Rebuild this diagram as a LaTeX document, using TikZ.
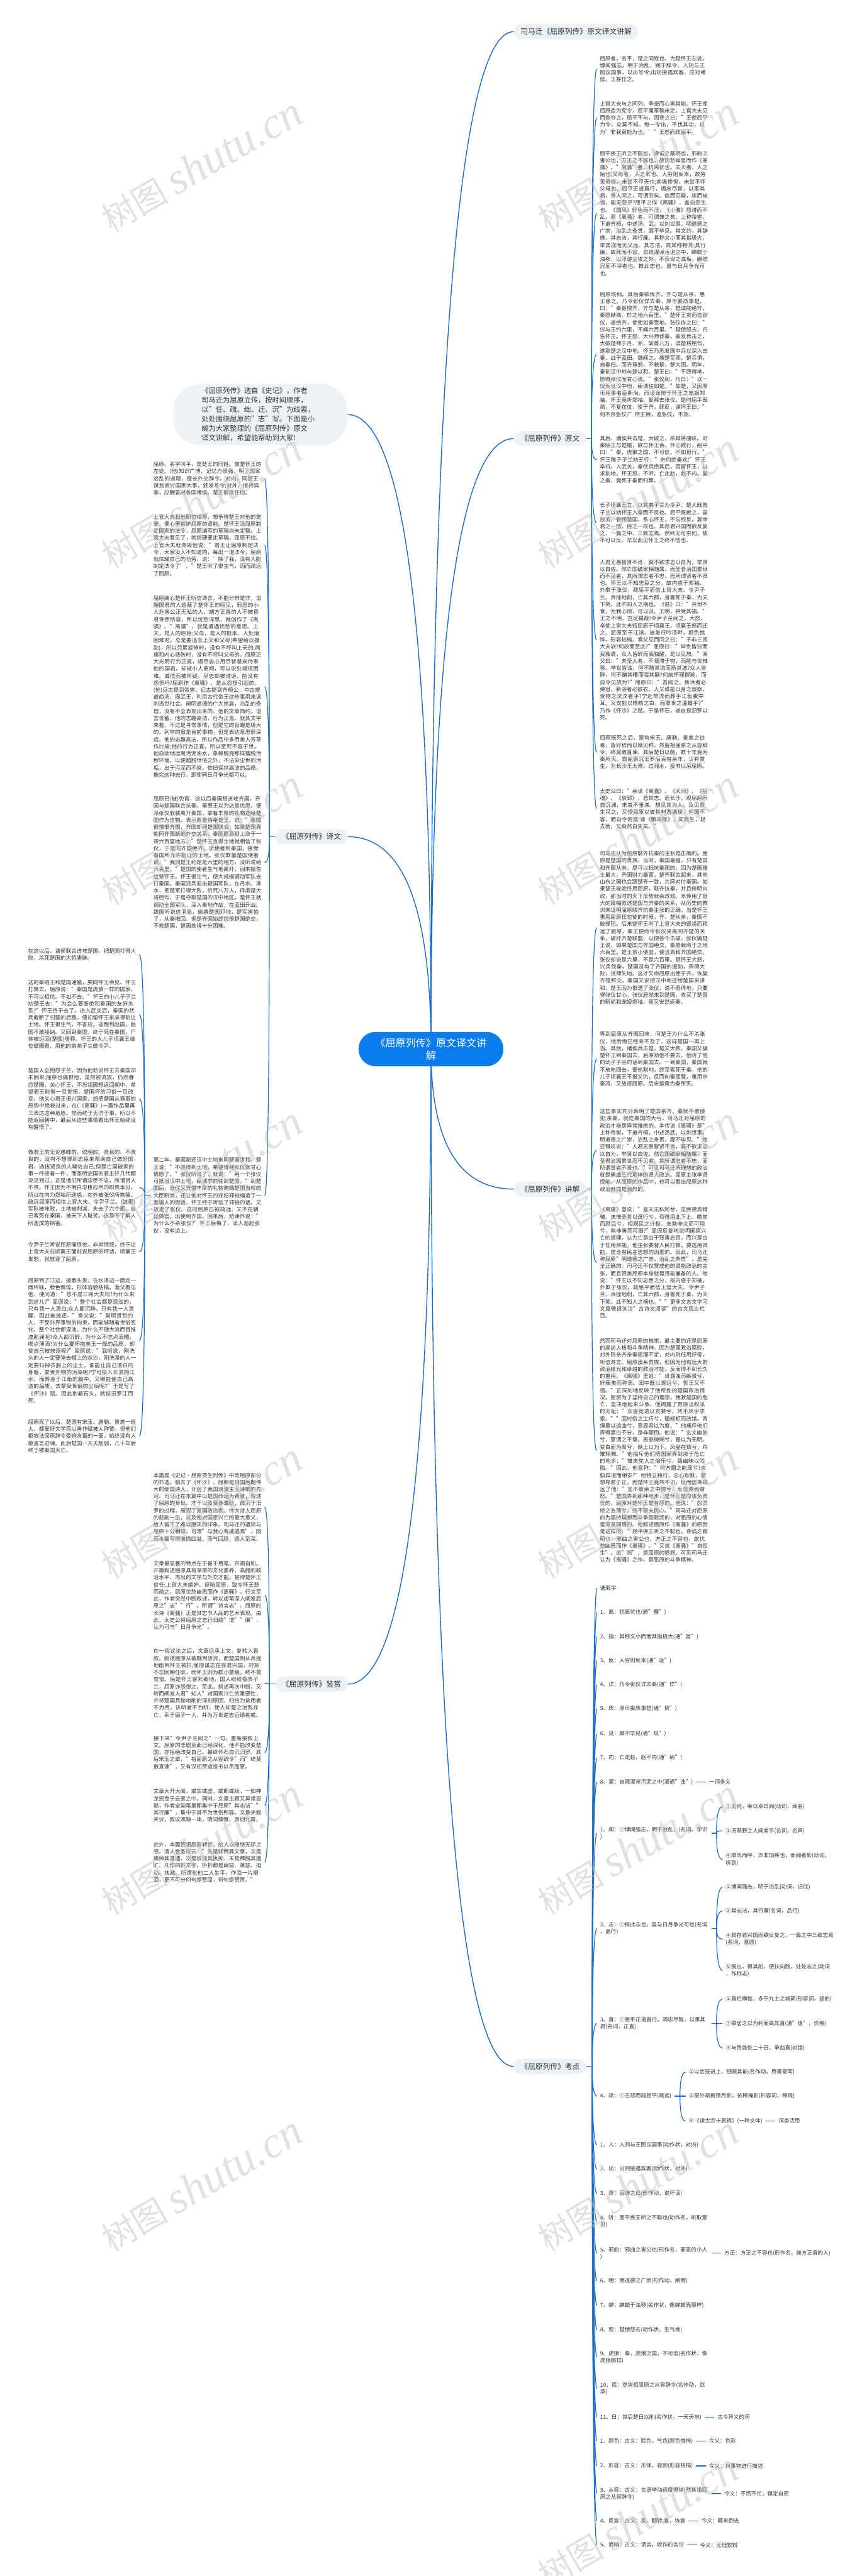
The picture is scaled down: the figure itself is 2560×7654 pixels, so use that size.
\documentclass[tikz,border=0pt]{standalone}
\usepackage{fontspec}
\setmainfont{Noto Sans CJK SC}
\newfontfamily\wmserif{Liberation Serif}
\XeTeXlinebreaklocale "zh"
\XeTeXlinebreakskip=0pt plus 1pt
\setlength{\parindent}{0pt}
\usetikzlibrary{calc,backgrounds}
\definecolor{lk}{RGB}{26,108,200}
\definecolor{cblue}{RGB}{10,124,235}
\definecolor{bfill}{RGB}{238,242,246}
\definecolor{tx}{RGB}{51,51,51}
\definecolor{wm}{RGB}{190,190,190}
\tikzset{
 leaf/.style={inner xsep=4.5pt, inner ysep=1pt, font=\fontsize{8pt}{10.5pt}\selectfont, text=tx, align=left},
 lw/.style={leaf, text width=160.5pt},
 br/.style={fill=bfill, rounded corners=11.5pt, minimum height=23pt, inner xsep=9.75pt, font=\fontsize{11pt}{13pt}\selectfont, text=tx},
 ctrst/.style={fill=cblue, rounded corners=25pt, minimum width=215pt, minimum height=51pt, text width=166pt, align=center, text=white, font=\fontsize{15pt}{19pt}\selectfont},
 introst/.style={fill=bfill, rounded corners=40pt, minimum width=259pt, minimum height=91pt, text width=175pt, align=left, text=tx, font=\fontsize{10.5pt}{14pt}\selectfont},
 main/.style={draw=lk, line width=1.3pt},
 sub/.style={draw=lk, line width=1.1pt},
 qc/.style={to path={.. controls ($(\tikztostart)!2/3!(\tikztostart |- \tikztotarget)$) and ($(\tikztotarget)!2/3!(\tikztostart |- \tikztotarget)$) .. (\tikztotarget)}},
 wmk/.style={font=\fontsize{50pt}{50pt}\selectfont, text=wm, opacity=0.45, rotate=30, anchor=south west, inner sep=0pt},
}
\newcommand\wmtext{树图 {\wmserif\itshape\fontsize{66pt}{66pt}\selectfont shutu.cn}}
\begin{document}
\begin{tikzpicture}[x=0.5pt,y=-0.5pt]
\useasboundingbox (0,0) rectangle (2560,7654);
% ---------- center and branches
\node[ctrst] (ctr) at (1280,3117) {《屈原列传》原文译文讲\\解};
\node[br, anchor=west] (tt) at (1526,94) {司马迁《屈原列传》原文译文讲解};
\node[br, anchor=west] (yw) at (1526,1303) {《屈原列传》原文};
\node[br, anchor=west] (jj) at (1526,3533) {《屈原列传》讲解};
\node[br, anchor=west] (kd) at (1526,6140) {《屈原列传》考点};
\node[br, anchor=east] (yl) at (1033,2486) {《屈原列传》译文};
\node[br, anchor=east] (js) at (1033,5004) {《屈原列传》鉴赏};
\node[introst, anchor=east] (intro) at (1033,1232) {《屈原列传》选自《史记》，作者\\司马迁为屈原立传，按时间顺序，\\以"任、疏、绌、迁、沉"为线索，\\处处围绕屈原的"志"写。下面是小\\编为大家整理的《屈原列传》原文\\译文讲解，希望能帮助到大家!};
% ---------- original text
\node[lw, anchor=west] (o1) at (1772,205) {屈原者，名平，楚之同姓也。为楚怀王左徒。博闻强志，明于治乱，娴于辞令。入则与王图议国事，以出号令;出则接遇宾客，应对诸侯。王甚任之。};
\node[lw, anchor=west] (o2) at (1772,350) {上官大夫与之同列，争宠而心害其能。怀王使屈原造为宪令，屈平属草稿未定。上官大夫见而欲夺之，屈平不与，因谗之曰："王使屈平为令，众莫不知。每一令出，平伐其功，以为'非我莫能为也。'"王怒而疏屈平。};
\node[lw, anchor=west] (o3) at (1772,634) {屈平疾王听之不聪也，谗谄之蔽明也，邪曲之害公也，方正之不容也，故忧愁幽思而作《离骚》。"离骚"者，犹离忧也。夫天者，人之始也;父母者，人之本也。人穷则反本，故劳苦倦极，未尝不呼天也;疾痛惨怛，未尝不呼父母也。屈平正道直行，竭忠尽智，以事其君，谗人间之，可谓穷矣。信而见疑，忠而被谤，能无怨乎?屈平之作《离骚》，盖自怨生也。《国风》好色而不淫，《小雅》怨诽而不乱。若《离骚》者，可谓兼之矣。上称帝喾，下道齐桓，中述汤、武，以刺世事。明道德之广崇，治乱之条贯，靡不毕见。其文约，其辞微，其志洁，其行廉。其称文小而其指极大，举类迩而见义远。其志洁，故其称物芳;其行廉，故死而不容。自疏濯淖污泥之中，蝉蜕于浊秽，以浮游尘埃之外，不获世之滋垢，皭然泥而不滓者也。推此志也，虽与日月争光可也。};
\node[lw, anchor=west] (o4) at (1772,1053) {屈原既绌。其后秦欲伐齐，齐与楚从亲，惠王患之。乃令张仪佯去秦，厚币委质事楚，曰："秦甚憎齐，齐与楚从亲，楚诚能绝齐，秦愿献商、於之地六百里。"楚怀王贪而信张仪，遂绝齐，使使如秦受地。张仪诈之曰："仪与王约六里，不闻六百里。"楚使怒去，归告怀王。怀王怒，大兴师伐秦。秦发兵击之，大破楚师于丹、淅，斩首八万，虏楚将屈匄，遂取楚之汉中地。怀王乃悉发国中兵以深入击秦，战于蓝田。魏闻之，袭楚至邓。楚兵惧，自秦归。而齐竟怒，不救楚，楚大困。明年，秦割汉中地与楚以和。楚王曰："不愿得地，愿得张仪而甘心焉。"张仪闻，乃曰："以一仪而当汉中地，臣请往如楚。"如楚，又因厚币用事者臣靳尚，而设诡辩于怀王之宠姬郑袖。怀王竟听郑袖，复释去张仪。是时屈平既疏，不复在位，使于齐，顾反，谏怀王曰："何不杀张仪?"怀王悔，追张仪，不及。};
\node[lw, anchor=west] (o5) at (1772,1366) {其后，诸侯共击楚，大破之，杀其将唐眛。时秦昭王与楚婚，欲与怀王会。怀王欲行，屈平曰："秦，虎狼之国，不可信，不如毋行。"怀王稚子子兰劝王行："奈何绝秦欢!"怀王卒行。入武关，秦伏兵绝其后，因留怀王，以求割地。怀王怒，不听。亡走赵，赵不内。复之秦，竟死于秦而归葬。};
\node[lw, anchor=west] (o6) at (1772,1554) {长子顷襄王立，以其弟子兰为令尹。楚人既咎子兰以劝怀王入秦而不反也。屈平既嫉之，虽放流，眷顾楚国，系心怀王，不忘欲反，冀幸君之一悟，俗之一改也。其存君兴国而欲反复之，一篇之中，三致志焉。然终无可奈何，故不可以反。卒以此见怀王之终不悟也。};
\node[lw, anchor=west] (o7) at (1772,1901) {人君无愚智贤不肖，莫不欲求忠以自为，举贤以自佐。然亡国破家相随属，而圣君治国累世而不见者，其所谓忠者不忠，而所谓贤者不贤也。怀王以不知忠臣之分，故内惑于郑袖，外欺于张仪，疏屈平而信上官大夫、令尹子兰。兵挫地削，亡其六郡，身客死于秦，为天下笑。此不知人之祸也。《易》曰："井泄不食，为我心恻，可以汲。王明，并受其福。"王之不明，岂足福哉!令尹子兰闻之，大怒，卒使上官大夫短屈原于顷襄王。顷襄王怒而迁之。屈原至于江滨，被发行吟泽畔，颜色憔悴，形容枯槁。渔父见而问之曰："子非三闾大夫欤?何故而至此?"屈原曰："举世皆浊而我独清，众人皆醉而我独醒，是以见放。"渔父曰："夫圣人者，不凝滞于物，而能与世推移。举世皆浊，何不随其流而扬其波?众人皆醉，何不餔其糟而啜其醨?何故怀瑾握瑜，而自令见放为?"屈原曰："吾闻之，新沐者必弹冠，新浴者必振衣。人又谁能以身之察察，受物之汶汶者乎?宁赴常流而葬乎江鱼腹中耳。又安能以皓皓之白，而蒙世之温蠖乎?"乃作《怀沙》之赋。于是怀石，遂自投汨罗以死。};
\node[lw, anchor=west] (o8) at (1772,2235) {屈原既死之后，楚有宋玉、唐勒、景差之徒者，皆好辞而以赋见称。然皆祖屈原之从容辞令，终莫敢直谏。其后楚日以削，数十年竟为秦所灭。自屈原沉汨罗后百有余年，汉有贾生，为长沙王太傅。过湘水，投书以吊屈原。};
\node[lw, anchor=west] (o9) at (1772,2403) {太史公曰："余读《离骚》、《天问》、《招魂》、《哀郢》，悲其志。适长沙，观屈原所自沉渊，未尝不垂涕，想见其为人。及见贾生吊之，又怪屈原以彼其材游诸侯，何国不容，而自令若是!读《鹏鸟赋》，同死生，轻去就，又爽然自失矣。"};
% ---------- translation
\node[lw, anchor=east] (t1) at (786,1422) {屈原，名字叫平，是楚王的同姓。做楚怀王的左徒。(他)知识广博，记忆力很强，明了国家治乱的道理，擅长外交辞令。对内，同楚王谋划商讨国家大事，颁发号令;对外，接待宾客，应酬答对各国诸侯。楚王很信任他。};
\node[lw, anchor=east] (t2) at (786,1620) {上官大夫和他职位相等，想争得楚王对他的宠爱，便心里嫉妒屈原的贤能。楚怀王派屈原制定国家的法令，屈原编写的草稿尚未定稿，上官大夫看见了，就想硬要走草稿，屈原不给。上官大夫就谗毁他说："君王让屈原制定法令，大家没人不知道的，每出一道法令，屈原就炫耀自己的功劳，说：'除了我，没有人能制定法令了'。"楚王听了很生气，因而疏远了屈原。};
\node[lw, anchor=east] (t3) at (786,2040) {屈原痛心楚怀王听信谗言，不能分辨是非，谄媚国君的人遮蔽了楚怀王的明见，邪恶的小人危害公正无私的人，端方正直的人不被昏君谗臣所容，所以忧愁深思，就创作了《离骚》。"离骚"，就是遭遇忧愁的意思。上天，是人的原始;父母，是人的根本。人处境困难时，总是要追念上天和父母(希望给以援助)，所以劳累疲倦时，没有不呼叫上天的;病痛和内心悲伤时，没有不呼叫父母的。屈原正大光明行为正直，竭尽忠心用尽智慧来侍奉他的国君，却被小人离间，可以说处境很困难。诚信而被怀疑，尽忠却被诽谤，能没有怨愤吗?屈原作《离骚》，是从怨愤引起的。(他)远古提到帝喾，近古提到齐桓公，中古提道商汤、周武王，利用古代帝王这些事用来讽刺当世社会。阐明道德的广大崇高，治乱的条理，没有不全表现出来的。他的文章简约，语言含蓄，他的志趣高洁，行为正直。就其文字来看，不过是寻常事情，但是它的旨趣是极大的，列举的虽是肯前事物，但是表达意思很深远。他的志趣高洁，所以作品中多用美人芳草作比喻;他的行为正直，所以至死不容于世。他自动地远离污泥浊水，象蝉脱壳那样摆脱污秽环境，以便超脱世俗之外，不沾染尘世的污垢，出于污泥而不染，依旧保持高洁的品德，推究这种志行，即使同日月争光都可以。};
\node[lw, anchor=east] (t4) at (786,2563) {屈原已(被)免官，这以后秦国想进攻齐国，齐国与楚国联合抗秦。秦惠王以为这是忧患，便派张仪假装离开秦国，拿着丰厚的礼物送给楚国作为信物，表示愿意侍奉楚王，说："秦国很憎恨齐国，齐国却同楚国联合，如果楚国真能同齐国断绝外交关系，秦国愿意献上商于一带六百里地方。"楚怀王贪得土地就相信了张仪，于是同齐国绝齐，派使者到秦国，接受秦国所允许割让的土地。张仪欺骗楚国使者说："我同楚王约定是六里的地方，没听说给六百里。"楚国的使者生气地离开，回来报告给楚怀王。怀王很生气，便大规模调动军队去打秦国。秦国派兵迎击楚国军队，在丹水、淅水，把楚军打得大败，杀死八万人，俘虏楚大将屈匄，于是夺取楚国的汉中地区。楚怀王就调动全国军队，深入秦地作战，在蓝田开战。魏国听说这消息，偷袭楚国邓地，楚军害怕了，从秦撤回。但是齐国始终怨恨楚国绝交，不救楚国，楚国处境十分困难。};
\node[lw, anchor=east] (t5) at (786,3552) {第二年，秦国割还汉中土地来同楚国讲和。楚王说："不愿得到土地，希望得到张仪就甘心情愿了。"张仪听说了，就说："用一个张仪可抵当汉中土地，臣请求前往到楚国。"到楚国后，张仪又凭借丰厚的礼物贿赂楚国当权的大臣靳尚，还让他对怀王的宠妃郑袖编造了一套骗人的假话。怀王终于听信了郑袖的话，又放走了张仪。这时屈原已被疏远，又不在朝廷做官，出使到齐国，回来后，劝谏怀说："为什么不杀张仪?"怀王后悔了，派人追赶张仪，没有追上。};
% ---------- translation, far left
\node[lw, anchor=east] (f1) at (414,2836) {在这以后，诸侯联合进攻楚国，把楚国打得大败，杀死楚国的大将唐眛。};
\node[lw, anchor=east] (f2) at (414,3014) {这时秦昭王和楚国通婚，要同怀王会见。怀王打算去，屈原说："秦国是虎狼一样的国家，不可以相信。不如不去。"怀王的小儿子子兰劝楚王去："为会么要断绝和秦国的友好关系?"怀王终于去了。进入武关后，秦国的伏兵截断了归楚的后路。便扣留怀王来求得割让土地。怀王很生气，不答应。逃跑到赵国，赵国不敢接纳。又回到秦国，终于死在秦国，尸体被运回(楚国)埋葬。怀王的大儿子顷襄王继位做国君，用他的弟弟子兰做令尹。};
\node[lw, anchor=east] (f3) at (414,3265) {楚国人全抱怨子兰，因为他劝说怀王去秦国却未回来;屈原也痛恨他，虽然被流放，仍然眷恋楚国，关心怀王，不忘祖国想返回朝中，希望君王能够一旦觉悟，楚国坏的习俗一旦改变。他关心君王振兴国家，想把楚国从衰弱的局势中挽救过来，在(《离骚》)一篇作品里再三表达这种意愿。然而终于无济于事，所以不能返回朝中，最后从这些事情看出怀王始终没有醒悟了。};
\node[lw, anchor=east] (f4) at (414,3529) {做君王的无论愚昧的、聪明的、贤良的、不贤良的，没有不想得到忠臣来帮助自己做好国君，选拔贤良的人辅佐自己;但是亡国破家的事一件接着一件，而圣明治国的君主好几代都没见到过，正是他们所谓忠臣不忠，所谓贤人不贤。怀王因为不明白忠臣应尽的职责本分，所以在内为郑袖所迷惑，在外被张仪所欺骗，疏远屈原而相信上官大夫、令尹子兰。(结果)军队被挫败，土地被削减，失去了六个郡，自己客死在秦国，被天下人耻笑。这是不了解人所造成的祸害。};
\node[lw, anchor=east] (f5) at (414,3720) {令尹子兰听说屈原痛恨他，非常愤怒，终于让上官大夫在顷襄王面前说屈原的坏话，顷襄王发怒，就放逐了屈原。};
\node[lw, anchor=east] (f6) at (414,3983) {屈原到了江边，披散头发，在水泽边一面走一面吟咏，脸色憔悴，形体容貌枯槁。渔父看见他，便问道："您不是三闾大夫吗?为什么来到这儿?"屈原说："整个社会都是混浊的，只有我一人清白;众人都沉醉，只有我一人清醒，因此被放逐。"渔父说："聪明贤哲的人，不受外界事物的拘束，而能够随着世俗变化。整个社会都混浊，为什么不随大流而且推波助澜呢?众人都沉醉，为什么不吃点酒糟，喝点薄酒?为什么要怀抱美玉一般的品质，却使自己被放逐呢?"屈原说："我听说，刚洗头的人一定要弹去帽上的灰沙，刚洗澡的人一定要抖掉衣服上的尘土，谁能让自己清白的身躯，蒙受外物的污染呢?宁可投入长流的江水，而葬身于江鱼的腹中，又哪能使自己高洁的品质，去蒙受世俗的尘垢呢?"于是写了《怀沙》赋。因此抱着石头，就投汨罗江而死。};
\node[lw, anchor=east] (f7) at (414,4267) {屈原死了以后，楚国有宋玉、唐勒、景差一班人，都爱好文学而以善作赋被人称赞。但他们都效法屈原辞令委婉含蓄的一面，始终没有人敢直言进谏。此后楚国一天天削弱，几十年后终于被秦国灭亡。};
% ---------- commentary
\node[lw, anchor=west] (c1) at (1772,2757) {司马迁认为屈原联齐抗秦的主张是正确的。屈原是楚国的贵族。当时，秦国最强，只有楚国和齐国从亲，是可以抵抗秦国的。因为楚国疆土最大，齐国财力最富，楚齐联合起来，其他山东之国也会跟楚齐一致，共同对付秦国。如果楚王能始终用屈原，联齐抗秦，并且修明内政，那当时的天下形势就会改观。本传用了很大的篇幅叙述楚国与齐秦的关系，从历史的教训来证明屈原联齐抗秦主张的正确。当楚怀王重用屈原任左徒的时候，齐、楚从亲，秦国不敢侵犯。后来楚怀王听了上官大夫的毁谤而疏远了屈原，秦王便命令张仪来离间齐楚的关系，破坏齐楚联盟，以便各个击破。张仪骗楚王说，如果楚国与齐国绝交，秦愿献商于之地六百里。楚王贪小便宜，便当真和齐国绝交。张仪却说是六里，不是六百里。楚怀王大怒，兴兵伐秦，楚国没有了齐国的援助，弄得大败，丧师失地。这才又命屈原出使于齐，恢复齐楚邦交。秦国又说把汉中地还给楚国来讲和，楚王因为恨透了张仪，说不愿得地，只要得张仪甘心。张仪居然来到楚国，收买了楚国的靳尚和宠姬郑袖，竟又安然返秦。};
\node[lw, anchor=west] (c2) at (1772,3147) {等到屈原从齐国回来，问楚王为什么不杀张仪，他后悔已经来不及了。这样楚国一再上当。其后，诸侯兵击楚，楚又大败。秦国又骗楚怀王到秦国去，屈原劝他不要去，他听了他的幼子子兰的话到秦国去。一到秦国，秦国就不放他回去，要他割地，终至客死于秦。他的儿子顷襄王不报父仇，反而向秦屈膝，重用亲秦派，又放逐屈原。后来楚竟为秦所灭。};
\node[lw, anchor=west] (c3) at (1772,3418) {这些事实充分表明了楚国亲齐，秦就不敢侵犯;亲秦，就吃秦国的大亏。司马迁对屈原的政治才能是异常推崇的。本传说《离骚》是"上称帝喾，下道齐桓，中述汤武，以刺世事。明道德之广崇，治乱之条贯，靡不毕见。"他还慨叹说："人君无愚智贤不肖，莫不欲求忠以自为，举贤以自佐。然亡国破家相随属，而圣君治国累世而不见者，其所谓忠者不忠，而所谓贤者不贤也。"可见司马迁所理想的政治就是唐虞三代那样的贤人政治。屈原主张举贤授能。从屈原的作品中，也可以看出屈原这种政治倾向是强烈的。};
\node[lw, anchor=west] (c4) at (1772,3752) {《离骚》里说："皇天无私阿兮，览民德焉错辅。夫惟圣哲以茂行兮，苟得用此下土。瞻前而顾后兮，相观民之计极。夫孰非义而可用兮，孰非善而可服?"屈原反复地说明国家兴亡的道理，认为亡是由于残害忠良，而兴是由于任用贤能。他主张要替人民打算，要选用贤能，是含有民主思想的因素的。因此，司马迁称屈原"明道德之广崇，治乱之条贯"，是完全正确的。司马迁不仅赞成他的贤能政治的主张，而且赞美屈原本身就是贤能兼备的人。他说："怀王以不知忠臣之分，故内惑于郑袖，外欺于张仪，疏屈平而信上官大夫、令尹子兰，兵挫地削，亡其六郡，身客死于秦，为天下笑。此不知人之祸也。""更多文言文学习文章敬请关注"古诗文阅读"的古文观止栏目。};
\node[lw, anchor=west] (c5) at (1772,4310) {然而司马迁对屈原的推崇，最主要的还是屈原的高尚人格和斗争精神。因为楚国政治腐败，对外则亲齐亲秦摇摆不定，对内则任用奸佞，听信谗言。屈原虽系贵族，但因为他有远大的政治眼光和卓越的政治才能，反而得不到长久的重用。《离骚》里说："世溷浊而嫉贤兮，好蔽美而称恶。闺中既以邃远兮，哲王又不悟。"正深刻地反映了他所处的楚国政治情况。屈原为了坚持自己的理想，挽救楚国的危亡，坚决地起来斗争。他揭露了贵族当权派的无耻："众皆竞进以贪婪兮，凭不厌乎求索。""固时俗之工巧兮，偭规矩而改错。背绳墨以追曲兮，竞周容以为度。"他痛斥他们弄得黑白不分，是非颠倒。他说："玄文幽处兮，蒙谓之不章。离娄微睇兮，瞽以为无明。变白而为黑兮，倒上以为下。凤皇在笯兮，鸡雉翔舞。"他指斥他们把国家弄到濒于危亡的地步："惟夫党人之偷乐兮，路幽昧以险隘。"因此，他宣称："何方圜之能周兮?夫孰异道而相安?"他特立独行，忠心耿耿，原想导君于正，而楚怀王竟然不识，反而信谗疏远了他："荃不察余之中情兮，反信谗而齌怒。"楚国弄到那种地步，楚怀王是应该负责任的，屈原对楚怀王是有怨的。他说："怨灵修之浩荡兮，终不察夫民心。"司马迁对屈原的为坚持理想而斗争是歌颂的，对屈原的心情是深深同情的。他叙述屈原作《离骚》的原因是这样的："屈平疾王听之不聪也，谗谄之蔽明也，邪曲之害公也，方正之不容也，故忧愁幽思而作《离骚》。"又说《离骚》"自怨生"。说"怨"，是屈原的愤怒。可见司马迁认为《离骚》之作，是屈原的斗争精神。};
% ---------- appreciation
\node[lw, anchor=east] (a1) at (786,4478) {本篇是《史记·屈原贾生列传》中写屈原部分的节选，删去了《怀沙》。屈原是战国后期伟大的爱国诗人，开创了我国浪漫主义诗歌的先河。司马迁在本篇中以楚国命运为背景，叙述了屈原的身世、才干以及受谗遭贬、自沉于汨罗的过程，展现了爱国政治家、伟大诗人屈原的悲剧一生，以及他对国家兴亡的重大意义，给人留下了难以磨灭的印象。司马迁的遭际与屈原十分相似，可谓"与我心有戚戚焉"，因而本篇写得激情四溢，荡气回肠，感人至深。};
\node[lw, anchor=east] (a2) at (786,4740) {文章最显著的特点在于善于用笔，开阖自如。开篇叙述屈原具有深厚的文化素养、高超的政治水平、杰出的文学与外交才能，甚得楚怀王信任;上官大夫嫉妒、诬陷屈原，致令怀王怒而疏之，屈原忧愁幽思而作《离骚》。行文至此，作者突然中断叙述，转以虚笔深入阐发屈原之"志""行"。所谓"诗言志"，屈原的长诗《离骚》正是其志节人品的艺术表现。由此，太史公将屈原之志行归结"洁""廉"，认为可与"日月争光"。};
\node[lw, anchor=east] (a3) at (786,5001) {在一段议论之后，文章远承上文，复转入直叙。叙述屈原从被黜到放流，而楚国则从兵挫地削到怀王被扣;屈原虽志在存君兴国，时刻不忘回朝任职，而怀王则为群小蒙蔽，终不曾觉悟。后楚怀王客死秦地，国人纷纷指责子兰，屈原亦怨恨之。至此，叙述再次中断，又转而阐发人君"知人"对国家兴亡的重要性，并将楚国兵挫地削的深刻原因，归结为该用者不为用，该听者不为听，使人知楚之治乱存亡，系于屈子一人，并为万世逆忠远德者戒。};
\node[lw, anchor=east] (a4) at (786,5207) {接下来"令尹子兰闻之"一句，重新接叙上文。屈原的悲剧至此已经深化，他不能改变楚国，亦拒绝改变自己，最终怀石自沉汨罗。其后宋玉之辈，"祖屈原之从容辞令"而"终莫敢直谏"，又有汉初贾谊投书以吊屈原。};
\node[lw, anchor=east] (a5) at (786,5365) {文章大开大阖，或实或虚，或断或续，一如神龙摇曳于云雾之中。同时，文章主题又异常显豁，作者全副笔墨都集中于屈原"其志洁""其行廉"，集中于其不为世俗所容。文章夹叙夹议，叙议浑融一体，情词慷慨，声彻九霄。};
\node[lw, anchor=east] (a6) at (786,5533) {此外，本篇赞语层层转折，给人以缭绕无际之感。清人金圣叹云："先是倾倒其文章，次是痛悼其遭遇，次是叹诧其执拗，末是拜服其邈旷。凡作四折文字，折折都是幽窅、萧瑟、挺动、扶疏。所谓化他二人生平，作我一片眼泪，更不可分何句是赞屈，何句是赞贾。"};
% ---------- exam points
\node[leaf, anchor=west] (k0) at (1773,4719) {通假字};
\node[leaf, anchor=west] (k1) at (1773,4791) {1、离：犹离忧也(通"罹")};
\node[leaf, anchor=west] (k2) at (1773,4864) {2、指：其称文小而而其指极大(通"旨")};
\node[leaf, anchor=west] (k3) at (1773,4935) {3、反：人穷则反本(通"返")};
\node[leaf, anchor=west] (k4) at (1773,5006) {4、详：乃令张仪详去秦(通"佯")};
\node[leaf, anchor=west] (k5) at (1773,5077) {5、质：厚币委质事楚(通"贽")};
\node[leaf, anchor=west] (k6) at (1773,5152) {6、见：靡不毕见(通"现")};
\node[leaf, anchor=west] (k7) at (1773,5223) {7、内：亡走赵，赵不内(通"纳")};
\node[leaf, anchor=west] (k8) at (1773,5295) {8、濯：自疏濯淖污泥之中(濯通"浊")};
\node[leaf, anchor=west] (k8c) at ($(k8.east)+(29,0)$) {一词多义};
\node[lw, anchor=west] (k9) at (1773,5447) {1、闻：①博闻强志，明于治乱，(名词，学识\\)};
\node[leaf, anchor=west] (k9a) at (2146,5368) {②无何，宰以卓异闻(动词，闻名)};
\node[leaf, anchor=west] (k9b) at (2146,5440) {③况草野之人闻者乎(名词，名声)};
\node[lw, anchor=west] (k9c) at (2146,5525) {④顺风而呼，声非加疾也，而闻者彰(动词，\\听到)};
\node[lw, anchor=west] (k10) at (1773,5730) {2、志：①推此志也，虽与日月争光可也(名词\\，品行)};
\node[leaf, anchor=west] (k10a) at (2146,5607) {②博闻强志，明于治乱(动词，记住)};
\node[leaf, anchor=west] (k10b) at (2146,5678) {③其志洁，其行廉(名词，品行)};
\node[lw, anchor=west] (k10c) at (2146,5762) {④其存君兴国而欲反复之，一篇之中三致志焉\\(名词，意愿)};
\node[lw, anchor=west] (k10d) at (2146,5855) {⑤既出，得其船，便扶向路，处处志之(动词\\，作标志)};
\node[lw, anchor=west] (k11) at (1773,6012) {3、直：①屈平正道直行，竭忠尽智，以事其\\君(名词，正直)};
\node[leaf, anchor=west] (k11a) at (2146,5940) {②直栏横槛，多于九土之城郭(形容词，竖的)};
\node[leaf, anchor=west] (k11b) at (2146,6012) {③欲居之以为利而高其直(通"值"，价格)};
\node[leaf, anchor=west] (k11c) at (2146,6085) {④与贵酋处二十日，争曲直(对错)};
\node[leaf, anchor=west] (k12) at (1773,6228) {4、疏：①王怒而疏屈平(疏远)};
\node[leaf, anchor=west] (k12a) at (2036,6157) {②以金笼进上，细疏其能(名作动，用奏章写)};
\node[leaf, anchor=west] (k12b) at (2036,6228) {③窗外疏梅筛月影，依稀掩影(形容词，稀疏)};
\node[leaf, anchor=west] (k12c) at (2036,6302) {④《谏太宗十思疏》(一种文体)};
\node[leaf, anchor=west] (k12d) at ($(k12c.east)+(29,0)$) {词类活用};
\node[leaf, anchor=west] (k13) at (1773,6373) {1、入：入则与王图议国事(动作状，对内)};
\node[leaf, anchor=west] (k14) at (1773,6445) {2、出：出则接遇宾客(动作状，对外)};
\node[leaf, anchor=west] (k15) at (1773,6518) {3、谗：因谗之曰(形作动，说坏话)};
\node[lw, anchor=west] (k16) at (1773,6600) {4、听：屈平疾王听之不聪也(动作名，听取意\\见)};
\node[lw, anchor=west] (k17) at (1773,6695) {5、邪曲：邪曲之害公也(形作名，邪恶的小人\\)};
\node[leaf, anchor=west] (k17c) at ($(k17.east)+(29,0)$) {方正：方正之不容也(形作名，端方正直的人)};
\node[leaf, anchor=west] (k18) at (1773,6777) {6、明：明道德之广崇(形作动，阐明)};
\node[leaf, anchor=west] (k19) at (1773,6850) {7、蝉：蝉蜕于浊秽(名作状，像蝉蜕壳那样)};
\node[leaf, anchor=west] (k20) at (1773,6923) {8、怒：楚使怒去(动作状，生气地)};
\node[lw, anchor=west] (k21) at (1773,7004) {9、虎狼：秦，虎狼之国，不可信(名作状，像\\虎狼那样)};
\node[lw, anchor=west] (k22) at (1773,7097) {10、祖：然皆祖屈原之从容辞令(名作动，继\\承)};
\node[leaf, anchor=west] (k23) at (1773,7182) {11、日：其后楚日以削(名作状，一天天地)};
\node[leaf, anchor=west] (k23c) at ($(k23.east)+(29,0)$) {古今异义的词};
\node[leaf, anchor=west] (k24) at (1773,7253) {1、颜色：古义：脸色，气色(颜色憔悴)};
\node[leaf, anchor=west] (k24c) at ($(k24.east)+(29,0)$) {今义：色彩};
\node[leaf, anchor=west] (k25) at (1773,7327) {2、形容：古义：形体，容颜(形容枯槁)};
\node[leaf, anchor=west] (k25c) at ($(k25.east)+(29,0)$) {今义：对事物进行描述};
\node[lw, anchor=west] (k26) at (1773,7409) {3、从容：古义：言语举动适度得体(然皆祖屈\\原之从容辞令)};
\node[leaf, anchor=west] (k26c) at ($(k26.east)+(29,0)$) {今义：不慌不忙，镇定自若};
\node[leaf, anchor=west] (k27) at (1773,7490) {4、反复：古义：反，翻转;复，恢复};
\node[leaf, anchor=west] (k27c) at ($(k27.east)+(29,0)$) {今义：颠来倒去};
\node[leaf, anchor=west] (k28) at (1773,7562) {5、诡辩：古义：谎言，欺诈的言论};
\node[leaf, anchor=west] (k28c) at ($(k28.east)+(29,0)$) {今义：无理狡辩};
% ---------- junctions
\coordinate (ywj) at ($(yw.east)+(15,0)$);
\coordinate (jjj) at ($(jj.east)+(15,0)$);
\coordinate (kdj) at ($(kd.east)+(17,0)$);
\coordinate (ylj) at ($(yl.west)+(-17,0)$);
\coordinate (jsj) at ($(js.west)+(-17,0)$);
\coordinate (t5j) at ($(t5.west)+(-16,0)$);
\coordinate (k9j) at ($(k9.east)+(15,0)$);
\coordinate (k10j) at ($(k10.east)+(15,0)$);
\coordinate (k11j) at ($(k11.east)+(15,0)$);
\coordinate (k12j) at ($(k12.east)+(16,0)$);
% ---------- connectors
\begin{scope}[on background layer]
\fill[white] (0,0) rectangle (2560,7654);
\foreach \b in {tt,yw,jj,kd} {\draw[main] (ctr.center) to[qc] (\b.west);}
\foreach \b in {intro,yl,js} {\draw[main] (ctr.center) to[qc] (\b.east);}
\draw[sub] (yw.east) -- (ywj);
\foreach \c in {o1,o2,o3,o4,o5,o6,o7,o8,o9} {\draw[sub] (ywj) to[qc] (\c.west);}
\draw[sub] (jj.east) -- (jjj);
\foreach \c in {c1,c2,c3,c4,c5} {\draw[sub] (jjj) to[qc] (\c.west);}
\draw[sub] (yl.west) -- (ylj);
\foreach \c in {t1,t2,t3,t4,t5} {\draw[sub] (ylj) to[qc] (\c.east);}
\draw[sub] (t5.west) -- (t5j);
\foreach \c in {f1,f2,f3,f4,f5,f6,f7} {\draw[sub] (t5j) to[qc] (\c.east);}
\draw[sub] (js.west) -- (jsj);
\foreach \c in {a1,a2,a3,a4,a5,a6} {\draw[sub] (jsj) to[qc] (\c.east);}
\draw[sub] (kd.east) -- (kdj);
\foreach \c in {k0,k1,k2,k3,k4,k5,k6,k7,k8,k9,k10,k11,k12,k13,k14,k15,k16,k17,k18,k19,k20,k21,k22,k23,k24,k25,k26,k27,k28} {\draw[sub] (kdj) to[qc] (\c.west);}
\draw[sub] (k9.east) -- (k9j);
\foreach \c in {k9a,k9b,k9c} {\draw[sub] (k9j) to[qc] (\c.west);}
\draw[sub] (k10.east) -- (k10j);
\foreach \c in {k10a,k10b,k10c,k10d} {\draw[sub] (k10j) to[qc] (\c.west);}
\draw[sub] (k11.east) -- (k11j);
\foreach \c in {k11a,k11b,k11c} {\draw[sub] (k11j) to[qc] (\c.west);}
\draw[sub] (k12.east) -- (k12j);
\foreach \c in {k12a,k12b,k12c} {\draw[sub] (k12j) to[qc] (\c.west);}
\foreach \p/\c in {k8/k8c,k12c/k12d,k17/k17c,k23/k23c,k24/k24c,k25/k25c,k26/k26c,k27/k27c,k28/k28c} {\draw[sub] (\p.east) -- (\c.west);}
\end{scope}
% ---------- watermark
\foreach \i in {0,...,7} {\node[wmk] (wr\i) at (1630,700+1000*\i) {\wmtext};}
\foreach \i in {0,...,6} {\node[wmk] (wl\i) at (335,700+1000*\i) {\wmtext};}
\end{tikzpicture}
\end{document}
